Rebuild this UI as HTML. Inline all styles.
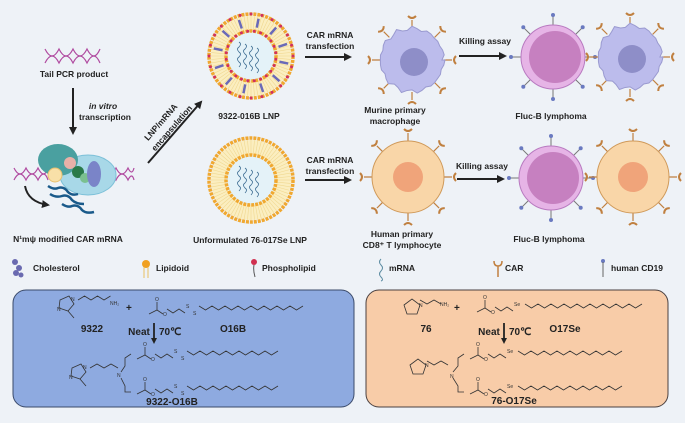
<!DOCTYPE html>
<html><head><meta charset="utf-8"><style>
html,body{margin:0;padding:0;background:#eef2f7;}
svg{display:block;font-family:"Liberation Sans",sans-serif;}
.t{font-size:8.5px;font-weight:bold;fill:#222;text-anchor:middle}
.l{font-size:8.5px;font-weight:bold;fill:#222}
.c{font-size:10px;font-weight:bold;fill:#222;text-anchor:middle}
.ch{fill:none;stroke:#333;stroke-width:0.8}
.a{font-size:5px;fill:#333}
</style></head><body>
<svg id="s" width="685" height="423" viewBox="0 0 685 423" xmlns="http://www.w3.org/2000/svg">
<defs>
<marker id="ah" markerWidth="8" markerHeight="8" refX="6" refY="4" orient="auto" markerUnits="userSpaceOnUse"><path d="M0,0 L8,4 L0,8 Z" fill="#222"/></marker>
<marker id="ah2" markerWidth="6" markerHeight="6" refX="4" refY="3" orient="auto" markerUnits="userSpaceOnUse"><path d="M0,0 L6,3 L0,6 Z" fill="#222"/></marker>
</defs>
<rect width="685" height="423" fill="#eef2f7"/>

<g id="dna" stroke="#b04aa0" stroke-width="1.2" fill="none">
<path d="M45,49 Q52,63 59,49 Q66,63 73,49 Q80,63 87,49 Q94,63 100,49"/>
<path d="M45,63 Q52,49 59,63 Q66,49 73,63 Q80,49 87,63 Q94,49 100,63"/>
</g>
<text class="t" x="74" y="77">Tail PCR product</text>
<line x1="73" y1="88" x2="73" y2="133" stroke="#222" stroke-width="2" marker-end="url(#ah)"/>
<text x="103" y="109" class="t" font-style="italic">in vitro</text>
<text x="105" y="120" class="t">transcription</text>

<g>
<path d="M14,168 Q20,180 26,168 Q32,180 38,168 Q44,180 48,168" stroke="#b04aa0" fill="none" stroke-width="1.2"/>
<path d="M14,180 Q20,168 26,180 Q32,168 38,180 Q44,168 48,180" stroke="#b04aa0" fill="none" stroke-width="1.2"/>
<path d="M104,168 Q110,180 116,168 Q122,180 128,168 Q132,176 134,168" stroke="#b04aa0" fill="none" stroke-width="1.2"/>
<path d="M104,180 Q110,168 116,180 Q122,168 128,180 Q132,172 134,180" stroke="#b04aa0" fill="none" stroke-width="1.2"/>
<ellipse cx="88" cy="175" rx="28" ry="20" fill="#a8d8e8" stroke="#7cc0d8"/>
<ellipse cx="58" cy="160" rx="20" ry="16" fill="#4aa0a0"/>
<circle cx="70" cy="163" r="6" fill="#e8b0a8"/>
<circle cx="55" cy="175" r="7" fill="#f8e0a8" stroke="#e8c070"/>
<circle cx="78" cy="172" r="6" fill="#2a7a4a"/>
<circle cx="85" cy="178" r="5" fill="#7ac090"/>
<ellipse cx="94" cy="174" rx="7" ry="13" fill="#7a84c8"/>
<path d="M25,186 Q28,202 48,205" stroke="#222" stroke-width="2" fill="none" marker-end="url(#ah)"/>
<g stroke="#1a5a8a" stroke-width="2.5" fill="none">
<path d="M48,186 q6,4 10,2 q6,-2 10,4 q4,4 10,2"/>
<path d="M50,194 q6,4 12,2 q6,-2 10,4 q4,4 12,4"/>
<path d="M62,204 q6,4 10,2 q6,-2 10,4 q4,4 12,2"/>
</g>
</g>
<text class="t" x="68" y="242">N¹mψ modified CAR mRNA</text>

<line x1="148" y1="163" x2="201" y2="102" stroke="#222" stroke-width="2" marker-end="url(#ah)"/>
<text class="t" transform="translate(163,124) rotate(-49)" >LNP/mRNA</text>
<text class="t" transform="translate(174,130) rotate(-49)" >encapsulation</text>

<g id="lnp1"></g>
<g id="lnp2"></g>
<text class="t" x="249" y="119">9322-016B LNP</text>
<text class="t" x="250" y="243">Unformulated 76-017Se LNP</text>

<text class="t" x="330" y="38">CAR mRNA</text>
<text class="t" x="330" y="49">transfection</text>
<line x1="305" y1="57" x2="350" y2="57" stroke="#222" stroke-width="2" marker-end="url(#ah)"/>
<text class="t" x="330" y="163">CAR mRNA</text>
<text class="t" x="330" y="174">transfection</text>
<line x1="305" y1="180" x2="350" y2="180" stroke="#222" stroke-width="2" marker-end="url(#ah)"/>

<g id="cells"></g>
<text class="t" x="395" y="113">Murine primary</text>
<text class="t" x="395" y="124">macrophage</text>
<text class="t" x="402" y="237">Human primary</text>
<text class="t" x="402" y="248">CD8⁺ T lymphocyte</text>
<text class="t" x="485" y="44">Killing assay</text>
<line x1="459" y1="56" x2="505" y2="56" stroke="#222" stroke-width="2" marker-end="url(#ah)"/>
<text class="t" x="482" y="169">Killing assay</text>
<line x1="457" y1="179" x2="503" y2="179" stroke="#222" stroke-width="2" marker-end="url(#ah)"/>
<text class="t" x="551" y="119">Fluc-B lymphoma</text>
<text class="t" x="549" y="242">Fluc-B lymphoma</text>

<g>
<circle cx="15" cy="262" r="3" fill="#6a6ab0"/><circle cx="19" cy="268" r="3" fill="#6a6ab0"/><circle cx="16" cy="273" r="3" fill="#6a6ab0"/><circle cx="21" cy="275" r="2.5" fill="#6a6ab0"/>
<text class="l" x="33" y="271">Cholesterol</text>
<circle cx="146" cy="264" r="4" fill="#f0a020"/><line x1="144" y1="267" x2="144" y2="278" stroke="#e8c060"/><line x1="148" y1="267" x2="148" y2="278" stroke="#e8c060"/>
<text class="l" x="156" y="271">Lipidoid</text>
<circle cx="254" cy="262" r="3" fill="#d03050"/><path d="M254,265 q-1,5 1,12" stroke="#555" fill="none"/>
<text class="l" x="262" y="271">Phospholipid</text>
<path d="M381,259 q-3,3 0,6 q3,3 0,6 q-3,3 0,6 q3,3 0,4" stroke="#5a8aa0" fill="none"/>
<text class="l" x="389" y="271">mRNA</text>
<path d="M494,261 q0,5 4,5 q4,0 4,-5 M498,266 v11" stroke="#c08040" stroke-width="1.5" fill="none"/>
<text class="l" x="505" y="271">CAR</text>
<circle cx="603" cy="261" r="2" fill="#6a7ac0"/><line x1="603" y1="262" x2="603" y2="277" stroke="#666"/>
<text class="l" x="611" y="271">human CD19</text>
</g>

<rect x="13" y="290" width="341" height="117" rx="13" fill="#8eaae0" stroke="#3a4a6a" stroke-width="1"/>
<rect x="366" y="290" width="302" height="117" rx="13" fill="#f8cca8" stroke="#4a4040" stroke-width="1"/>
<g id="chem"></g>
<text class="c" x="92" y="332">9322</text>
<text class="c" x="139" y="335">Neat</text>
<text class="c" x="159" y="335" text-anchor="start" style="text-anchor:start">70℃</text>
<line x1="154" y1="323" x2="154" y2="342" stroke="#222" stroke-width="1.8" marker-end="url(#ah2)"/>
<text class="c" x="233" y="332">O16B</text>
<text class="c" x="172" y="405">9322-O16B</text>

<text class="c" x="426" y="332">76</text>
<text class="c" x="489" y="335">Neat</text>
<text class="c" x="509" y="335" style="text-anchor:start">70℃</text>
<line x1="504" y1="323" x2="504" y2="342" stroke="#222" stroke-width="1.8" marker-end="url(#ah2)"/>
<text class="c" x="565" y="332">O17Se</text>
<text class="c" x="514" y="404">76-O17Se</text>
</svg>
<script>
var NS="http://www.w3.org/2000/svg";
function el(p,t,a){var e=document.createElementNS(NS,t);for(var k in a)e.setAttribute(k,a[k]);p.appendChild(e);return e;}
function lnp(g,cx,cy,R,chol){
 el(g,"circle",{cx:cx,cy:cy,r:R-3,fill:"#fbeec0"});
 for(var i=0;i<72;i++){var a=i/72*6.283;
  el(g,"line",{x1:cx+Math.cos(a)*(R-3),y1:cy+Math.sin(a)*(R-3),x2:cx+Math.cos(a)*(R-16),y2:cy+Math.sin(a)*(R-16),stroke:"#f0d890","stroke-width":0.6});}
 el(g,"circle",{cx:cx,cy:cy,r:R-1,fill:"none",stroke:"#f0a830","stroke-width":3.5,"stroke-dasharray":"3 1"});
 el(g,"circle",{cx:cx,cy:cy,r:R-18,fill:"#e4f2f8",stroke:"#f0a830","stroke-width":3.5,"stroke-dasharray":"3 1"});
 if(chol){for(var i=0;i<24;i++){var a=i/24*6.283;
   el(g,"circle",{cx:cx+Math.cos(a)*(R-1),cy:cy+Math.sin(a)*(R-1),r:1.5,fill:"#d03060"});
   el(g,"circle",{cx:cx+Math.cos(a+0.13)*(R-18),cy:cy+Math.sin(a+0.13)*(R-18),r:1.5,fill:"#d03060"});}
  for(var i=0;i<12;i++){var a=i/12*6.283+0.2;
   el(g,"line",{x1:cx+Math.cos(a)*(R-5),y1:cy+Math.sin(a)*(R-5),x2:cx+Math.cos(a)*(R-14),y2:cy+Math.sin(a)*(R-14),stroke:"#6a6ab8","stroke-width":2.5});}}
 for(var j=0;j<4;j++){var d="M"+(cx-12+j*6)+","+(cy-14+j*2);for(var k=0;k<5;k++)d+=" q"+(k%2?-3:3)+",2 0,5";
  el(g,"path",{d:d,stroke:"#3a6a90",fill:"none","stroke-width":0.8});}
}
lnp(document.getElementById("lnp1"),251,56,43,true);
lnp(document.getElementById("lnp2"),251,180,43,false);

var C=document.getElementById("cells");
function car(cx,cy,r,n){for(var i=0;i<n;i++){var a=i/n*6.283-1.5708;var c=Math.cos(a),s=Math.sin(a);
 var x=cx+c*(r+8),y=cy+s*(r+8);
 el(C,"line",{x1:cx+c*r,y1:cy+s*r,x2:x,y2:y,stroke:"#c08040","stroke-width":1.2});
 var px=-s,py=c;
 el(C,"path",{d:"M"+(x+px*4+c*4)+","+(y+py*4+s*4)+" Q"+(x)+","+(y)+" "+(x-px*4+c*4)+","+(y-py*4+s*4),stroke:"#c08040","stroke-width":2,fill:"none"});}}
function macro(cx,cy){car(cx,cy,32,8);
 var d="";for(var i=0;i<=40;i++){var a=i/40*6.283;var r=31+(i%3==0?2:0)+Math.sin(i*1.7)*1.2;d+=(i?"L":"M")+(cx+Math.cos(a)*r)+","+(cy+Math.sin(a)*r);}
 el(C,"path",{d:d+"Z",fill:"#bcbcec",stroke:"#9a9ad0"});
 el(C,"circle",{cx:cx+2,cy:cy+2,r:14,fill:"#8e8ec8"});}
function tcell(cx,cy){car(cx,cy,36,8);
 el(C,"circle",{cx:cx,cy:cy,r:36,fill:"#f9d6a8",stroke:"#d09a5a"});
 el(C,"circle",{cx:cx,cy:cy,r:15,fill:"#f0a47a"});}
function lymph(cx,cy){for(var i=0;i<8;i++){var a=i/8*6.283-1.5708;var c=Math.cos(a),s=Math.sin(a);
 el(C,"line",{x1:cx+c*32,y1:cy+s*32,x2:cx+c*42,y2:cy+s*42,stroke:"#777","stroke-width":1});
 el(C,"circle",{cx:cx+c*42,cy:cy+s*42,r:2,fill:"#6a7ac0"});}
 el(C,"circle",{cx:cx,cy:cy,r:32,fill:"#e6b4e6",stroke:"#b87ac0"});
 el(C,"circle",{cx:cx+2,cy:cy,r:26,fill:"#c680c0"});}
macro(412,60);lymph(553,57);macro(630,57);
tcell(408,177);lymph(551,178);tcell(633,177);

var H=document.getElementById("chem");
function pl(pts){el(H,"polyline",{points:pts.join(" "),class:"ch"});}
function zig(x,y,n,dx,amp,up){var p=[];for(var i=0;i<=n;i++)p.push((x+i*dx)+","+(y+((i%2)^up?-amp:0)));return p;}
function txt(x,y,s){var t=el(H,"text",{x:x,y:y,class:"a"});t.textContent=s;}
function chain(x,y,end,Se){
 pl([(x-8)+","+(y+4),x+","+y,(x+6)+","+(y+4)]);
 pl([x+","+y,x+","+(y-8)]);txt(x-2,y-9,"O");
 txt(x+6,y+6,"O");
 pl(zig(x+10,y+3,3,6,4,1));
 if(Se){txt(x+29,y-2,"Se");pl(zig(x+40,y,Math.round((end-x-40)/6.5),6.5,4,1));}
 else{txt(x+29,y-2,"S");txt(x+36,y+5,"S");pl(zig(x+42,y,Math.round((end-x-42)/6.5),6.5,4,1));}}
function imid(x,y){el(H,"polygon",{points:x+","+y+" "+(x+9)+","+(y-4)+" "+(x+14)+","+(y+4)+" "+(x+8)+","+(y+11)+" "+(x-1)+","+(y+8),class:"ch"});
 txt(x+11,y+1,"N");txt(x-3,y+11,"N");pl([(x+8)+","+(y+11),(x+14)+","+(y+18)]);}
function pyrr(x,y){el(H,"polygon",{points:x+","+y+" "+(x+8)+","+(y-6)+" "+(x+16)+","+y+" "+(x+13)+","+(y+9)+" "+(x+3)+","+(y+9),class:"ch"});txt(x+15,y+2,"N");}
imid(60,300);pl(zig(78,300,5,6.5,4,0));txt(110,305,"NH₂");
el(H,"text",{x:126,y:311,"font-size":"10px","font-weight":"bold",fill:"#222"}).textContent="+";
chain(157,310,303,false);
imid(72,368);pl(zig(90,368,4,7,4,0));txt(117,377,"N");
pl(["121,372","125,366","125,358","131,354"]);chain(145,355,280,false);
pl(["121,378","125,386","125,392","131,392"]);chain(145,390,280,false);
pyrr(404,305);pl(zig(420,304,3,7,4,1));txt(440,306,"NH₂");
el(H,"text",{x:454,y:311,"font-size":"10px","font-weight":"bold",fill:"#222"}).textContent="+";
chain(485,308,640,true);
pyrr(410,365);pl(zig(427,365,3,7,4,1));txt(450,378,"N");
pl(["453,372","458,366","458,358","464,354"]);chain(478,355,620,true);
pl(["453,378","458,386","458,392","464,392"]);chain(478,390,620,true);
</script>
</body></html>
